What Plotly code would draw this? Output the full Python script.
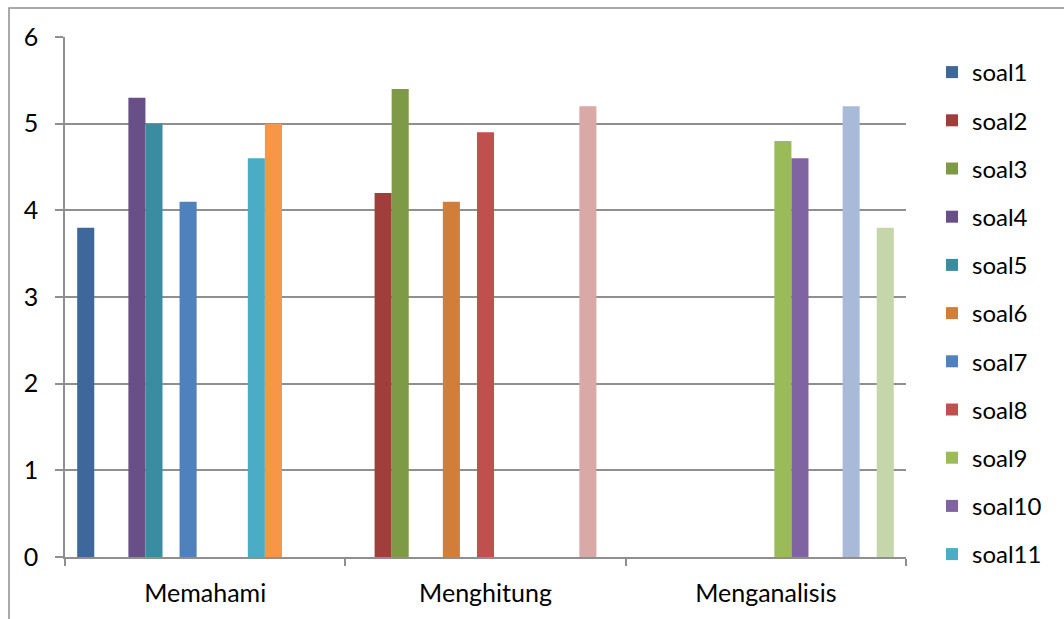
import plotly.graph_objects as go

categories = ["Memahami", "Menghitung", "Menganalisis"]

series_names = [f"soal{i}" for i in range(1, 16)]

# scores per question for each category (None = not assessed in that category)
soal1 = [3.8, None, None]
soal2 = [None, 4.2, None]
soal3 = [None, 5.4, None]
soal4 = [5.3, None, None]
soal5 = [5.0, None, None]
soal6 = [None, 4.1, None]
soal7 = [4.1, None, None]
soal8 = [None, 4.9, None]
soal9 = [None, None, 4.8]
soal10 = [None, None, 4.6]
soal11 = [4.6, None, None]
soal12 = [5.0, None, None]
soal13 = [None, None, 5.2]
soal14 = [None, 5.2, None]
soal15 = [None, None, 3.8]

series_values = [soal1, soal2, soal3, soal4, soal5, soal6, soal7, soal8,
                 soal9, soal10, soal11, soal12, soal13, soal14, soal15]

colors = ["#3D6899", "#9F3E3B", "#7E9A47", "#694F87", "#3A8CA1", "#D27D38",
          "#4F81BD", "#C0504D", "#9BBB59", "#8064A2", "#4BACC6", "#F79646",
          "#A9BAD9", "#D9A9A8", "#C6D6AB"]

y_ticks = [0, 1, 2, 3, 4, 5, 6]

# only the first eleven series fit in the legend box
legend_count = 11

FONT = "Lato"
GRID = "#8f8f8f"

fig = go.Figure()
for i, (name, vals) in enumerate(zip(series_names, series_values)):
    fig.add_trace(go.Bar(
        x=categories, y=vals, name=name,
        marker=dict(color=colors[i], line=dict(width=0)),
        showlegend=i < legend_count,
        legendgroup=name,
    ))

W, H = 1064, 619
L, R, T, B = 65, 158, 37, 62
pw, ph = W - L - R, H - T - B


def px_x(px):
    return (px - L) / pw


def px_y(py):
    return (H - B - py) / ph


fig.update_layout(
    width=W, height=H,
    margin=dict(l=L, r=R, t=T, b=B, pad=0),
    paper_bgcolor="white", plot_bgcolor="white",
    barmode="group", bargap=0.087, bargroupgap=0,
    font=dict(family=FONT, size=24, color="#000000"),
    showlegend=True,
    legend=dict(
        x=px_x(932), xanchor="left",
        y=px_y(50), yanchor="top",
        font=dict(family=FONT, size=24, color="#000000"),
        tracegroupgap=14,
        itemsizing="constant",
        maxheight=619,
        bgcolor="rgba(0,0,0,0)",
    ),
    xaxis=dict(
        type="category",
        showgrid=False,
        showline=True, linecolor=GRID, linewidth=1.5,
        ticks="outside", tickson="boundaries", ticklen=7,
        tickcolor=GRID, tickwidth=1.5,
        ticklabelstandoff=13,
        tickfont=dict(family=FONT, size=25),
    ),
    yaxis=dict(
        range=[0, 6],
        tickvals=y_ticks,
        showgrid=True, gridcolor=GRID, gridwidth=1.5,
        showline=True, linecolor=GRID, linewidth=1.5,
        ticks="outside", ticklen=8, tickcolor=GRID, tickwidth=1.5,
        ticklabelstandoff=12,
        zeroline=False,
        tickfont=dict(family=FONT, size=25),
    ),
    shapes=[dict(
        type="rect", xref="paper", yref="paper",
        x0=px_x(9), x1=px_x(1090), y0=px_y(640), y1=px_y(8),
        line=dict(color=GRID, width=1.5), fillcolor="rgba(0,0,0,0)",
        layer="below",
    )],
)

fig.write_html("out.html")
